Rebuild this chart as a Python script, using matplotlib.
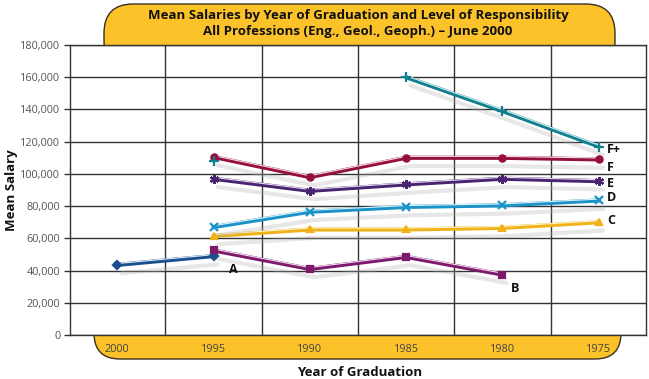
import numpy as np
import matplotlib
matplotlib.use("Agg")
import matplotlib.pyplot as plt
import matplotlib.patheffects as pe
from matplotlib.patches import FancyBboxPatch

years = [2000, 1995, 1990, 1985, 1980, 1975]
nan = np.nan
series_A = [43500, 49000, nan, nan, nan, nan]
series_B = [nan, 52500, 41000, 48500, 37500, nan]
series_C = [nan, 61500, 65500, 65500, 66500, 70000]
series_D = [nan, 67000, 76500, 79500, 80500, 83500]
series_E = [nan, 97000, 89500, 93500, 97000, 95500]
series_F = [nan, 110500, 98000, 110000, 110000, 109000]
series_Fp = [nan, 108000, nan, 160000, 139000, 117000]
labels = ["A", "B", "C", "D", "E", "F", "F+"]
yticks = [0, 20000, 40000, 60000, 80000, 100000, 120000, 140000, 160000, 180000]
title = "Mean Salaries by Year of Graduation and Level of Responsibility\nAll Professions (Eng., Geol., Geoph.) \u2013 June 2000"

W, H = 649, 379
fig = plt.figure(figsize=(W/100, H/100), dpi=100)
plt.rcParams['font.family'] = ['Open Sans', 'DejaVu Sans']

L, R, T, B = 70, 646, 45, 335
ax = fig.add_axes([L/W, 1 - B/H, (R-L)/W, (B-T)/H])
ax.set_zorder(2)

gold = '#FCC22A'
# title box
tb = FancyBboxPatch((104/W, (H-70)/H), (615-104)/W, (70-4)/H,
                    boxstyle="round,pad=0,rounding_size=0.045", transform=fig.transFigure,
                    facecolor=gold, edgecolor='#3a3020', linewidth=1.0, zorder=0,
                    mutation_aspect=W/H)
fig.patches.append(tb)
bb = FancyBboxPatch((94/W, (H-359)/H), (621-94)/W, (359-310)/H,
                    boxstyle="round,pad=0,rounding_size=0.04", transform=fig.transFigure,
                    facecolor=gold, edgecolor='#3a3020', linewidth=1.0, zorder=0,
                    mutation_aspect=W/H)
fig.patches.append(bb)

fig.text(358/W, 1 - 24/H, title, ha='center', va='center', fontsize=9.5,
         fontweight='bold', color='#111', linespacing=1.3)

styles = [
    (series_A, '#1c4f8e', '#e0ecf8', 'D', 4),
    (series_B, '#7d1a6c', '#f3dcef', 's', 4),
    (series_C, '#f0b21a', '#fff3c8', '^', 4.5),
    (series_D, '#1b93c8', '#dff3fb', 'x', 5.5),
    (series_E, '#4a2470', '#e6dcf2', (6, 2, 0), 6.5),
    (series_F, '#951040', '#f8dde6', 'o', 4.5),
    (series_Fp, '#137f8e', '#d5f3f6', '+', 7.5),
]

for vals, c, lc, m, ms in styles:
    y = np.array(vals, dtype=float)
    effects = [
        pe.SimpleLineShadow(offset=(3, -6), shadow_color='#b0b0b0', alpha=0.3),
        pe.Stroke(linewidth=3.0, foreground=c),
        pe.Stroke(offset=(0, 1.0), linewidth=0.8, foreground=lc),
    ]
    ax.plot(years, y, color=c, lw=3.0, zorder=3, path_effects=effects, solid_capstyle='round')
    ax.plot(years, y, linestyle='none', marker=m, ms=ms, color=c, mec=c, mew=1.6, zorder=4)

# series labels
lab_pos = [(1995, series_A[1], 11, -10),
           (1980, series_B[4], 6, -10),
           (1975, series_C[5], 6, 1),
           (1975, series_D[5], 6, 2),
           (1975, series_E[5], 6, -2),
           (1975, series_F[5], 6, -6),
           (1975, series_Fp[5], 6, -2)]
for lab, (xv, yv, dx, dy) in zip(labels, lab_pos):
    ax.annotate(lab, (xv, yv), xytext=(dx, dy), textcoords='offset points',
                ha='left', va='center', fontsize=9, fontweight='bold', color='#111')

ax.set_xlim(2002.45, 1972.55)
ax.set_ylim(0, 180000)
ax.set_yticks(yticks)
ax.set_yticklabels([f"{v:,}" for v in yticks], fontsize=7.8, color='#555')
ax.set_xticks([1997.5, 1992.5, 1987.5, 1982.5, 1977.5])
ax.set_xticklabels([])
ax.tick_params(axis='x', length=0)
ax.tick_params(axis='y', length=4, width=1, color='#333', pad=3)
ax.grid(True, color='#333', lw=1)
ax.set_axisbelow(True)
for s in ax.spines.values():
    s.set_color('#333')
    s.set_linewidth(1)

for yr in years:
    x_fig = ax.transData.transform((yr, 0))[0]
    fig.text(x_fig / fig.dpi / fig.get_figwidth(), 1 - 349/H, str(yr), ha='center', va='center',
             fontsize=7.8, color='#444')

fig.text(360/W, 1 - 372/H, "Year of Graduation", ha='center', va='center',
         fontsize=9.5, fontweight='bold', color='#111')
fig.text(12/W, 1 - 190/H, "Mean Salary", ha='center', va='center', rotation=90,
         fontsize=9.5, fontweight='bold', color='#111')

fig.savefig("out.png", dpi=100)
